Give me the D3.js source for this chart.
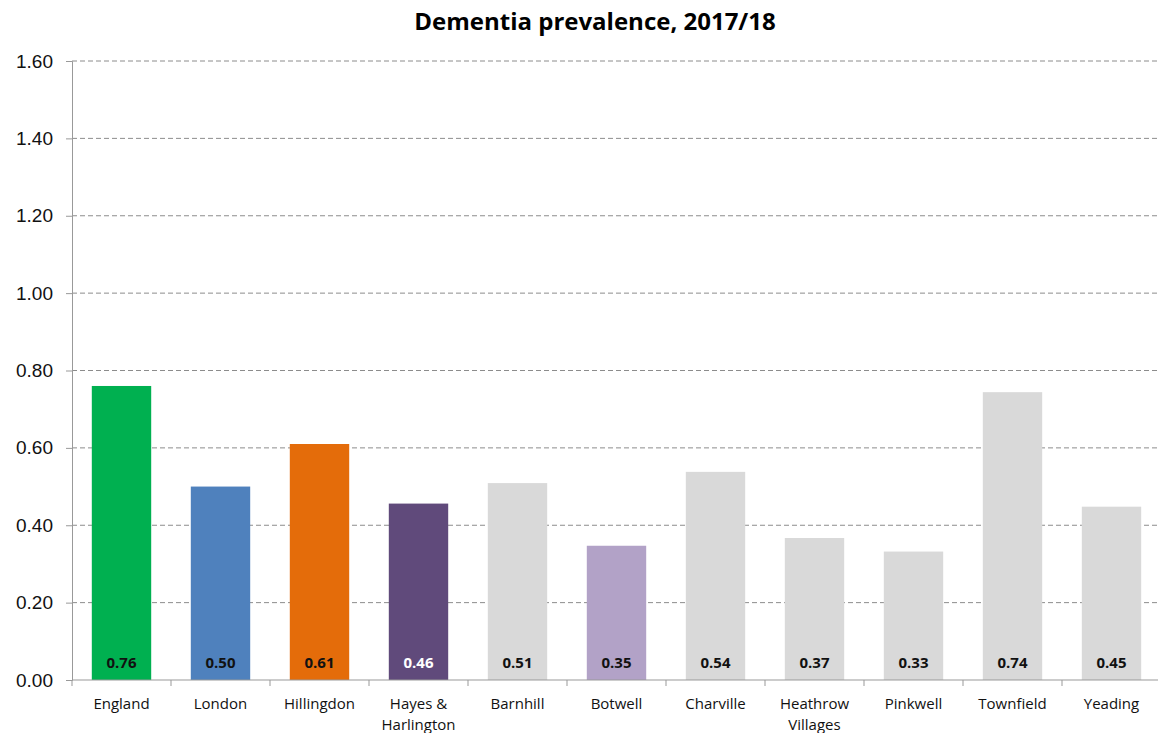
<!DOCTYPE html>
<meta charset="utf-8">
<head>
<style>
  body { margin: 0; background: #fff; }
  svg { font-family: "Open Sans", sans-serif; }
  .grid line { stroke: #8c8c8c; stroke-dasharray: 5,3; }
  .axis path, .axis line { stroke: #999; }
</style>
</head>
<body>
<script src="https://cdnjs.cloudflare.com/ajax/libs/d3/7.8.5/d3.min.js"></script>
<script>

const categories = ["England", "London", "Hillingdon", "Hayes & Harlington", "Barnhill", "Botwell",
  "Charville", "Heathrow Villages", "Pinkwell", "Townfield", "Yeading"];
const values = [0.76, 0.50, 0.61, 0.456, 0.509, 0.347, 0.538, 0.367, 0.332, 0.744, 0.448];
const barColors = ["#00b050", "#4f81bd", "#e46c0a", "#604a7b", "#d9d9d9", "#b2a2c7",
  "#d9d9d9", "#d9d9d9", "#d9d9d9", "#d9d9d9", "#d9d9d9"];
const labelColors = ["#111", "#111", "#111", "#fff", "#111", "#111", "#111", "#111", "#111", "#111", "#111"];
const yTicks = [0, 0.2, 0.4, 0.6, 0.8, 1.0, 1.2, 1.4, 1.6];

const W = 1158, H = 733;
const margin = {top: 61, right: -3, bottom: 53, left: 72};
const width = W - margin.left - margin.right,
      height = H - margin.top - margin.bottom;

const svg = d3.select("body").append("svg")
  .attr("width", W).attr("height", H);

svg.append("text")
  .attr("x", 595).attr("y", 30)
  .attr("text-anchor", "middle")
  .style("font-size", "24px").style("font-weight", "bold")
  .text("Dementia prevalence, 2017/18");

const g = svg.append("g").attr("transform", `translate(${margin.left},${margin.top})`);

const x = d3.scaleBand().domain(categories).range([0, width]).paddingInner(0.4).paddingOuter(0.2);
const y = d3.scaleLinear().domain([0, 1.6]).range([height, 0]);

// gridlines
g.append("g").attr("class", "grid")
  .selectAll("line").data(yTicks.slice(1)).join("line")
  .attr("x1", 0).attr("x2", width)
  .attr("y1", d => y(d)).attr("y2", d => y(d));

// bars
g.selectAll("rect.bar").data(values).join("rect")
  .attr("class", "bar")
  .attr("x", (d, i) => x(categories[i]))
  .attr("width", x.bandwidth())
  .attr("y", d => y(d))
  .attr("height", d => height - y(d))
  .attr("fill", (d, i) => barColors[i]);

// value labels
g.selectAll("text.val").data(values).join("text")
  .attr("class", "val")
  .attr("x", (d, i) => x(categories[i]) + x.bandwidth() / 2)
  .attr("y", height - 12)
  .attr("text-anchor", "middle")
  .style("font-size", "15px").style("font-weight", "bold")
  .attr("fill", (d, i) => labelColors[i])
  .text(d => d.toFixed(2));

// y axis
const yAxis = g.append("g").attr("class", "axis")
  .call(d3.axisLeft(y).tickValues(yTicks).tickFormat(d3.format(".2f")).tickSizeOuter(0).tickSize(6).tickPadding(13));
yAxis.selectAll("text").style("font-size", "19px").attr("fill", "#111");

// x axis with ticks at category boundaries
const xAxis = g.append("g").attr("class", "axis").attr("transform", `translate(0,${height})`);
xAxis.append("line").attr("x1", 0).attr("x2", width).attr("y1", 0).attr("y2", 0);
const step = x.step();
xAxis.selectAll("line.tk").data(d3.range(categories.length + 1)).join("line")
  .attr("class", "tk")
  .attr("x1", i => i * step).attr("x2", i => i * step)
  .attr("y1", 0).attr("y2", 6);

xAxis.selectAll("text.cat").data(categories).join("text")
  .attr("class", "cat")
  .attr("x", d => x(d) + x.bandwidth() / 2)
  .attr("y", 29)
  .attr("text-anchor", "middle")
  .style("font-size", "15px")
  .attr("fill", "#111")
  .each(function(d) {
    const words = d === "Hayes & Harlington" ? ["Hayes &", "Harlington"]
      : d === "Heathrow Villages" ? ["Heathrow", "Villages"] : [d];
    d3.select(this).selectAll("tspan").data(words).join("tspan")
      .attr("x", x(d) + x.bandwidth() / 2)
      .attr("dy", (w, i) => i === 0 ? 0 : 21)
      .text(w => w);
  });

</script>
</body>
